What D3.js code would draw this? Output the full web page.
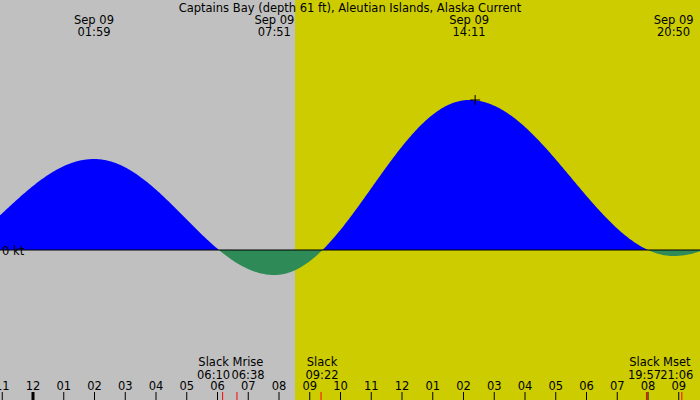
<!DOCTYPE html><html><head><script src="https://cdn.jsdelivr.net/npm/d3@7"></script>
<style>body{margin:0}svg{display:block;font-family:"DejaVu Sans",sans-serif;font-size:11.5px}</style></head><body>
<script>
const title="Captains Bay (depth 61 ft), Aleutian Islands, Alaska Current";
// extremes: hours since midnight Sep 09, speed in kt
const extremeHours=[-4.0,1.983,7.85,14.183,20.833,26.5];
const extremeSpeeds=[-0.18,0.91,-0.25,1.5,-0.06,0.8];
const extremeLabels=[{h:1.983,t:"01:59"},{h:7.85,t:"07:51"},{h:14.183,t:"14:11"},{h:20.833,t:"20:50"}];
const bottomEvents=[{h:6.167,n:"Slack",t:"06:10",dx:-9},{h:6.633,n:"Mrise",t:"06:38",dx:11},{h:9.367,n:"Slack",t:"09:22",dx:1},{h:19.95,n:"Slack",t:"19:57",dx:-2},{h:21.1,n:"Mset",t:"21:06",dx:-5}];
const tickHours=d3.range(-1,22);
const tickLabels=["11","12","01","02","03","04","05","06","07","08","09","10","11","12","01","02","03","04","05","06","07","08","09"];
const sunrise=8.52;
const W=700,H=400;
const x=d3.scaleLinear().domain([0,1]).range([33,63.75]);
const y=d3.scaleLinear().domain([0,1]).range([250,150]);
const svg=d3.select("body").append("svg").attr("width",W).attr("height",H);
svg.append("rect").attr("width",W).attr("height",H).attr("fill","#c0c0c0");
svg.append("rect").attr("x",x(sunrise)).attr("width",W-x(sunrise)).attr("height",H).attr("fill","#cccc00");
const pts=[];
for(let px=0;px<=W;px+=1){const h=x.invert(px);let i=0;while(i<extremeHours.length-2&&h>extremeHours[i+1])i++;
 const h0=extremeHours[i],h1=extremeHours[i+1],v0=extremeSpeeds[i],v1=extremeSpeeds[i+1];const f=(h-h0)/(h1-h0);
 pts.push([h,v0+(v1-v0)*(1-Math.cos(Math.PI*f))/2]);}
const area=d3.area().x(d=>x(d[0])).y0(y(0)).y1(d=>y(d[1]));
svg.append("path").attr("d",area(pts.map(d=>[d[0],Math.max(0,d[1])]))).attr("fill","#0000ff");
svg.append("path").attr("d",area(pts.map(d=>[d[0],Math.min(0,d[1])]))).attr("fill","#2e8b57");
svg.append("line").attr("x1",0).attr("x2",W).attr("y1",y(0)).attr("y2",y(0)).attr("stroke","#000");
svg.append("text").attr("x",2).attr("y",y(0)+5).text("0 kt");
svg.append("text").attr("x",350).attr("y",12).attr("text-anchor","middle").text(title);
extremeLabels.forEach(e=>{const g=svg.append("g").attr("text-anchor","middle");
 const cx=Math.min(x(e.h),675);
 g.append("text").attr("x",cx).attr("y",24).text("Sep 09");g.append("text").attr("x",cx).attr("y",36).text(e.t);});
const mx=extremeLabels[2].h;
svg.append("path").attr("d",`M${x(mx)+6-5},${y(1.5)}h10M${x(mx)+6},${y(1.5)-5}v10`).attr("stroke","#000");
tickHours.forEach((h,i)=>{svg.append("line").attr("x1",x(h)).attr("x2",x(h)).attr("y1",392).attr("y2",400).attr("stroke","#000").attr("stroke-width",h===0?3:1);
 svg.append("text").attr("x",x(h)).attr("y",390).attr("text-anchor","middle").text(tickLabels[i]);});
bottomEvents.forEach(e=>{svg.append("line").attr("x1",x(e.h)).attr("x2",x(e.h)).attr("y1",392).attr("y2",400).attr("stroke","red");
 svg.append("text").attr("x",x(e.h)+e.dx).attr("y",366).attr("text-anchor","middle").text(e.n);
 svg.append("text").attr("x",x(e.h)+e.dx).attr("y",379).attr("text-anchor","middle").text(e.t);});
</script></body></html>
